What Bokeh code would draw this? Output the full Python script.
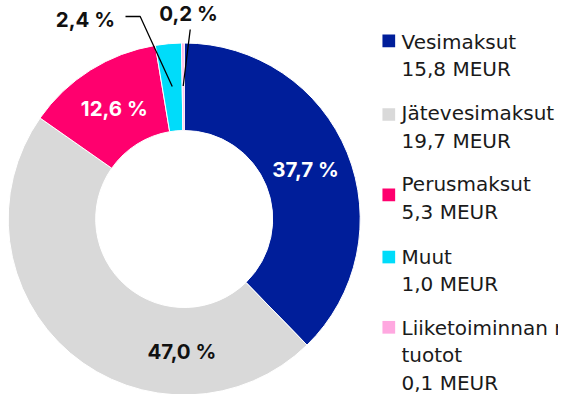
import numpy as np
from bokeh.plotting import figure
from bokeh.models import Range1d, ColumnDataSource
from bokeh.core.properties import value
from bokeh.embed import file_html
from bokeh.resources import INLINE

# ---- data ----
categories = ["Vesimaksut", "Jätevesimaksut", "Perusmaksut", "Muut", "Liiketoiminnan muut tuotot"]
values_meur = [15.8, 19.7, 5.3, 1.0, 0.1]
colors = ["#001E9A", "#D9D9D9", "#FF006E", "#00DCFA", "#FFA8E0"]
legend_name_lines = [["Vesimaksut"], ["Jätevesimaksut"], ["Perusmaksut"], ["Muut"],
                     ["Liiketoiminnan muut", "tuotot"]]

def fi(v):
    return f"{v:.1f}".replace(".", ",")

vals = np.array(values_meur)
frac = vals / vals.sum()
cum_end = np.cumsum(frac)
cum_start = cum_end - frac
pct_text = [fi(f * 100) + " %" for f in frac]

# ---- layout (pixel units) ----
W, H = 558, 394
def Y(y_down):
    return H - y_down

cx, cy = 183.7, Y(218.5)
r_out, r_in = 176.0, 88.5
r_lab = 131.0
FONT = value("Inter")
LFONT = value("DejaVu Sans")
PCT_SIZE = "20.5px"

p = figure(width=W, height=H, x_range=Range1d(0, W), y_range=Range1d(0, H),
           output_backend="svg", toolbar_location=None, min_border=0,
           x_axis_type=None, y_axis_type=None)
p.grid.visible = False
p.outline_line_color = None

start = np.pi / 2 - 2 * np.pi * cum_start
end = np.pi / 2 - 2 * np.pi * cum_end
src = ColumnDataSource(dict(start=start, end=end, color=colors))
p.annular_wedge(x=cx, y=cy, inner_radius=r_in, outer_radius=r_out,
                start_angle="start", end_angle="end", direction="clock",
                fill_color="color", line_color="white", line_width=1, source=src)

mid = np.pi / 2 - 2 * np.pi * (cum_start + frac / 2)

# inside labels
inside = [0, 1, 2]
angle_override = {1: np.pi / 2 - 2 * np.pi * (181 / 360)}
text_cols = {0: "white", 1: "#111111", 2: "white"}
for i in inside:
    a = angle_override.get(i, mid[i])
    r = 132.5 if i == 1 else r_lab
    p.text(x=[cx + r * np.cos(a)], y=[cy + r * np.sin(a)], text=[pct_text[i]],
           text_font=FONT, text_font_size=PCT_SIZE, text_font_style="bold",
           text_color=text_cols[i], text_align="center", text_baseline="middle")

# outside labels with leader lines
r_lead = 133
# Muut (2,4 %)
a = mid[3]
ex, ey = cx + r_lead * np.cos(a), cy + r_lead * np.sin(a)
p.line(x=[125, 139.7, ex], y=[Y(16), Y(16), ey], line_color="black", line_width=1.3)
p.text(x=[85], y=[Y(19)], text=[pct_text[3]], text_font=FONT, text_font_size=PCT_SIZE,
       text_font_style="bold", text_color="#111111", text_align="center", text_baseline="middle")
# Liiketoiminnan (0,2 %)
a = mid[4]
ex, ey = cx + r_lead * np.cos(a), cy + r_lead * np.sin(a)
p.line(x=[189.7, ex], y=[Y(29), ey], line_color="black", line_width=1.3)
p.text(x=[188], y=[Y(12.5)], text=[pct_text[4]], text_font=FONT, text_font_size=PCT_SIZE,
       text_font_style="bold", text_color="#111111", text_align="center", text_baseline="middle")

# legend (y measured from top)
first_line_y = [41, 112.5, 183.8, 256, 327.3]
square_off = [-0.7, 1.5, 10.5, 0.5, -0.5]
step = 27.6
sq_x = 388.3
txt_x = 401
p.rect(x=[sq_x] * 5, y=[Y(first_line_y[i] + square_off[i]) for i in range(5)],
       width=12.7, height=12.7, fill_color=colors, line_color=None)
for i in range(5):
    lines = legend_name_lines[i] + [fi(values_meur[i]) + " MEUR"]
    ys = [Y(first_line_y[i] + k * step) for k in range(len(lines))]
    p.text(x=[txt_x] * len(lines), y=ys, text=lines, text_font=LFONT, text_font_size="20px",
           text_color="#1A1A1A", text_align="left", text_baseline="middle")

open("out.html", "w").write(file_html(p, INLINE))
